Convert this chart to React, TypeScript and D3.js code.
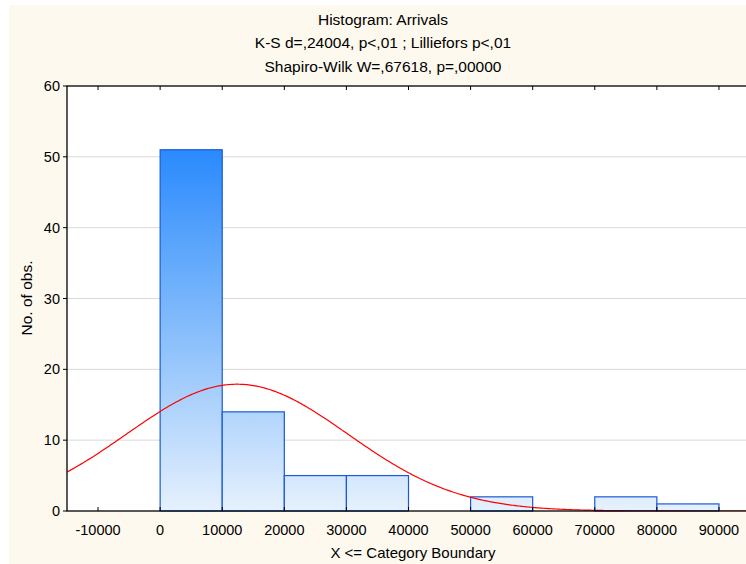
import React from "react";
import * as d3 from "d3";

const binStarts = [0, 10000, 20000, 30000, 40000, 50000, 60000, 70000, 80000];
const binCounts = [51, 14, 5, 5, 0, 2, 0, 2, 1];
const binWidth = 10000;
const xTicks = [-10000, 0, 10000, 20000, 30000, 40000, 50000, 60000, 70000, 80000, 90000];
const yTicks = [0, 10, 20, 30, 40, 50, 60];
const fitMean = 12400;
const fitSd = 17830;
const titleLines = [
  "Histogram: Arrivals",
  "K-S d=,24004, p<,01 ; Lilliefors p<,01",
  "Shapiro-Wilk W=,67618, p=,00000",
];

const W = 746;
const H = 564;
const plot = { left: 67, right: 750, top: 86, bottom: 511 };
const font = "'Liberation Sans', Arial, sans-serif";

export default function App() {
  const x = d3.scaleLinear().domain([-15000, 95000]).range([plot.left, plot.right]);
  const y = d3.scaleLinear().domain([0, 60]).range([plot.bottom, plot.top]);
  const total = d3.sum(binCounts);
  const xs = d3.range(-15000, 95001, 250);
  const curvePts = xs.map((v) => [
    v,
    (total * binWidth) / (fitSd * Math.sqrt(2 * Math.PI)) *
      Math.exp(-((v - fitMean) ** 2) / (2 * fitSd * fitSd)),
  ]);
  const line = d3
    .line<number[]>()
    .x((d) => x(d[0]))
    .y((d) => y(d[1]))
    .curve(d3.curveLinear);

  return (
    <svg
      width={W}
      height={H}
      style={{ position: "absolute", left: 0, top: 0 }}
      fontFamily={font}
    >
      <defs>
        <linearGradient
          id="barGrad"
          gradientUnits="userSpaceOnUse"
          x1={0}
          x2={0}
          y1={y(51)}
          y2={y(0)}
        >
          <stop offset="0" stopColor="#2a8afd" />
          <stop offset="0.5" stopColor="#86bdfb" />
          <stop offset="1" stopColor="#e6f1fd" />
        </linearGradient>
        <clipPath id="plotClip">
          <rect
            x={plot.left}
            y={plot.top}
            width={plot.right - plot.left}
            height={plot.bottom - plot.top}
          />
        </clipPath>
      </defs>
      <rect x={0} y={0} width={W} height={H} fill="#ffffff" />
      <rect x={9} y={5} width={W - 9} height={H - 5} fill="#fdf9ee" />
      <rect
        x={plot.left}
        y={plot.top}
        width={plot.right - plot.left}
        height={plot.bottom - plot.top}
        fill="#ffffff"
      />
      {yTicks
        .filter((t) => t > 0 && t < 60)
        .map((t) => (
          <line
            key={"g" + t}
            x1={plot.left}
            x2={plot.right}
            y1={y(t)}
            y2={y(t)}
            stroke="#d9d9d9"
            strokeWidth={1}
          />
        ))}
      {binStarts.map((s, i) =>
        binCounts[i] > 0 ? (
          <rect
            key={"b" + i}
            x={x(s)}
            y={y(binCounts[i])}
            width={x(s + binWidth) - x(s)}
            height={y(0) - y(binCounts[i])}
            fill="url(#barGrad)"
            stroke="#1a5ad6"
            strokeWidth={1.2}
          />
        ) : null
      )}
      <path
        d={line(curvePts) || ""}
        fill="none"
        stroke="#ff0000"
        strokeWidth={1.2}
        clipPath="url(#plotClip)"
      />
      <rect
        x={plot.left}
        y={plot.top}
        width={plot.right - plot.left}
        height={plot.bottom - plot.top}
        fill="none"
        stroke="#000"
        strokeWidth={1.3}
      />
      {xTicks.map((t) => (
        <g key={"x" + t}>
          <line x1={x(t)} x2={x(t)} y1={plot.bottom} y2={plot.bottom - 4} stroke="#000" />
          <line x1={x(t)} x2={x(t)} y1={plot.top} y2={plot.top + 4} stroke="#000" />
          <text x={x(t)} y={535} textAnchor="middle" fontSize={14.5} fill="#000">
            {t}
          </text>
        </g>
      ))}
      {yTicks.map((t) => (
        <g key={"y" + t}>
          <line x1={plot.left - 4} x2={plot.left} y1={y(t)} y2={y(t)} stroke="#000" />
          <text x={60} y={y(t) + 5} textAnchor="end" fontSize={14.5} fill="#000">
            {t}
          </text>
        </g>
      ))}
      {titleLines.map((s, i) => (
        <text
          key={"t" + i}
          x={383}
          y={24.5 + i * 23.5}
          textAnchor="middle"
          fontSize={15.5}
          fill="#000"
        >
          {s}
        </text>
      ))}
      <text x={413} y={558} textAnchor="middle" fontSize={15} fill="#000">
        X &lt;= Category Boundary
      </text>
      <text
        transform={`translate(32,298) rotate(-90)`}
        textAnchor="middle"
        fontSize={15.5}
        fill="#000"
      >
        No. of obs.
      </text>
    </svg>
  );
}
